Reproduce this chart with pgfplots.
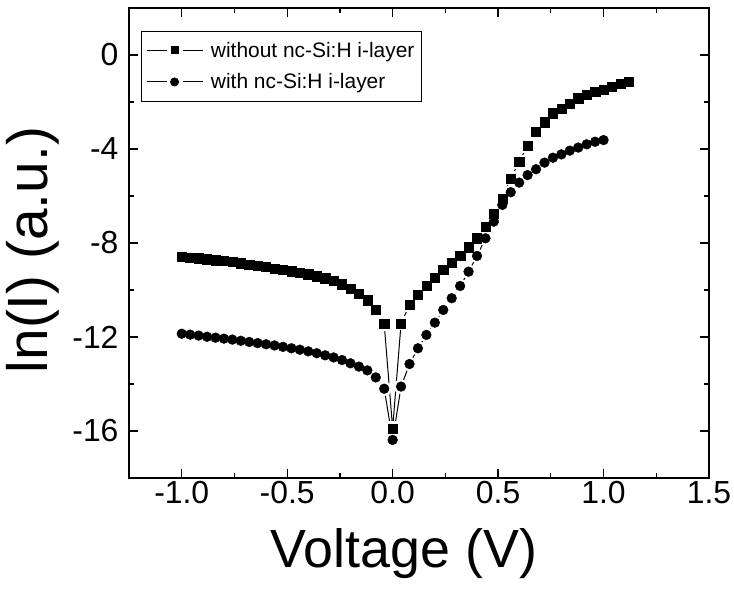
\documentclass[border=0pt]{standalone}
\usepackage{fontspec}
\setmainfont{Liberation Sans}
\usepackage{pgfplots}
\usepackage{pgfplotstable}
\pgfplotsset{compat=1.18}

\pgfplotstableread{
V lnI
-1.00 -8.58
-0.96 -8.62
-0.92 -8.65
-0.88 -8.69
-0.84 -8.73
-0.80 -8.77
-0.76 -8.81
-0.72 -8.86
-0.68 -8.91
-0.64 -8.96
-0.60 -9.02
-0.56 -9.08
-0.52 -9.14
-0.48 -9.20
-0.44 -9.26
-0.40 -9.33
-0.36 -9.41
-0.32 -9.50
-0.28 -9.60
-0.24 -9.75
-0.20 -9.93
-0.16 -10.15
-0.12 -10.43
-0.08 -10.85
-0.04 -11.45
0.00 -15.89
0.04 -11.42
0.08 -10.64
0.12 -10.21
0.16 -9.83
0.20 -9.46
0.24 -9.15
0.28 -8.84
0.32 -8.55
0.36 -8.18
0.40 -7.80
0.44 -7.31
0.48 -6.77
0.52 -6.10
0.56 -5.25
0.60 -4.54
0.64 -3.87
0.68 -3.26
0.72 -2.86
0.76 -2.48
0.80 -2.27
0.84 -2.06
0.88 -1.84
0.92 -1.70
0.96 -1.56
1.00 -1.46
1.04 -1.35
1.08 -1.23
1.12 -1.12
}\without

\pgfplotstableread{
V lnI
-1.00 -11.86
-0.96 -11.90
-0.92 -11.94
-0.88 -11.99
-0.84 -12.03
-0.80 -12.07
-0.76 -12.11
-0.72 -12.16
-0.68 -12.21
-0.64 -12.26
-0.60 -12.31
-0.56 -12.36
-0.52 -12.42
-0.48 -12.48
-0.44 -12.54
-0.40 -12.61
-0.36 -12.69
-0.32 -12.78
-0.28 -12.87
-0.24 -12.98
-0.20 -13.12
-0.16 -13.26
-0.12 -13.42
-0.08 -13.72
-0.04 -14.20
0.00 -16.38
0.04 -14.11
0.08 -13.15
0.12 -12.48
0.16 -11.91
0.20 -11.39
0.24 -10.85
0.28 -10.35
0.32 -9.83
0.36 -9.22
0.40 -8.55
0.44 -7.80
0.48 -7.09
0.52 -6.38
0.56 -5.84
0.60 -5.43
0.64 -5.11
0.68 -4.86
0.72 -4.58
0.76 -4.37
0.80 -4.23
0.84 -4.07
0.88 -3.94
0.92 -3.80
0.96 -3.69
1.00 -3.62
}\withlayer

\begin{document}
\begin{tikzpicture}
\begin{axis}[
  at={(0,0)}, anchor=south west,
  width=580bp, height=470bp, scale only axis,
  xmin=-1.25, xmax=1.5, ymin=-18, ymax=2,
  xtick={-1,-0.5,0,0.5,1,1.5},
  ytick={-16,-12,-8,-4,0},
  minor x tick num=1, minor y tick num=1,
  tick align=inside,
  major tick length=9bp, minor tick length=5bp,
  tick style={black, line width=1.2bp},
  axis line style={line width=1.5bp},
  xticklabel style={/pgf/number format/.cd, fixed, fixed zerofill, precision=1},
  /pgf/number format/assume math mode=true,
  ticklabel style={font=\fontsize{32}{32}\selectfont},
  yticklabel style={xshift=-7bp},
  xlabel={Voltage (V)},
  ylabel={ln(I) (a.u.)},
  xlabel style={font=\fontsize{54}{54}\selectfont, at={(axis description cs:0.474,-0.16)}, anchor=center},
  ylabel style={font=\fontsize{57}{57}\selectfont, at={(axis description cs:-0.165,0.485)}, anchor=center},
  legend style={at={(0.02,0.952)}, anchor=north west, draw=black, line width=0.9bp,
    font=\fontsize{21}{24}\selectfont, inner xsep=5bp, inner ysep=9bp,
    /tikz/row sep=11bp, legend cell align=left},
]
% lines with gaps around symbols
\addplot[black, line width=1bp, mark=square*, mark size=4.6bp,
  mark options={fill=white, draw=white, line width=5bp, solid}, forget plot] table[x=V,y=lnI] {\without};
\addplot[black, line width=1bp, mark=*, mark size=4.9bp,
  mark options={fill=white, draw=white, line width=5bp, solid}, forget plot] table[x=V,y=lnI] {\withlayer};
% symbols
\addplot[black, only marks, mark=square*, mark size=4.6bp,
  legend image code/.code={
    \draw[black, line width=1bp] (0bp,0bp) -- (20bp,0bp);
    \draw[black, line width=1bp] (36bp,0bp) -- (56bp,0bp);
    \fill[black] (24.5bp,-3.5bp) rectangle (31.5bp,3.5bp);
    \path (62bp,0bp);
  }] table[x=V,y=lnI] {\without};
\addlegendentry{without nc-Si:H i-layer}
\addplot[black, only marks, mark=*, mark size=4.9bp,
  legend image code/.code={
    \draw[black, line width=1bp] (0bp,0bp) -- (20bp,0bp);
    \draw[black, line width=1bp] (36bp,0bp) -- (56bp,0bp);
    \fill[black] (28bp,0bp) circle (4bp);
    \path (62bp,0bp);
  }] table[x=V,y=lnI] {\withlayer};
\addlegendentry{with nc-Si:H i-layer}
\end{axis}
\pgfresetboundingbox
\path[use as bounding box] (-129bp,-112bp) rectangle (605bp,478bp);
\end{tikzpicture}
\end{document}
